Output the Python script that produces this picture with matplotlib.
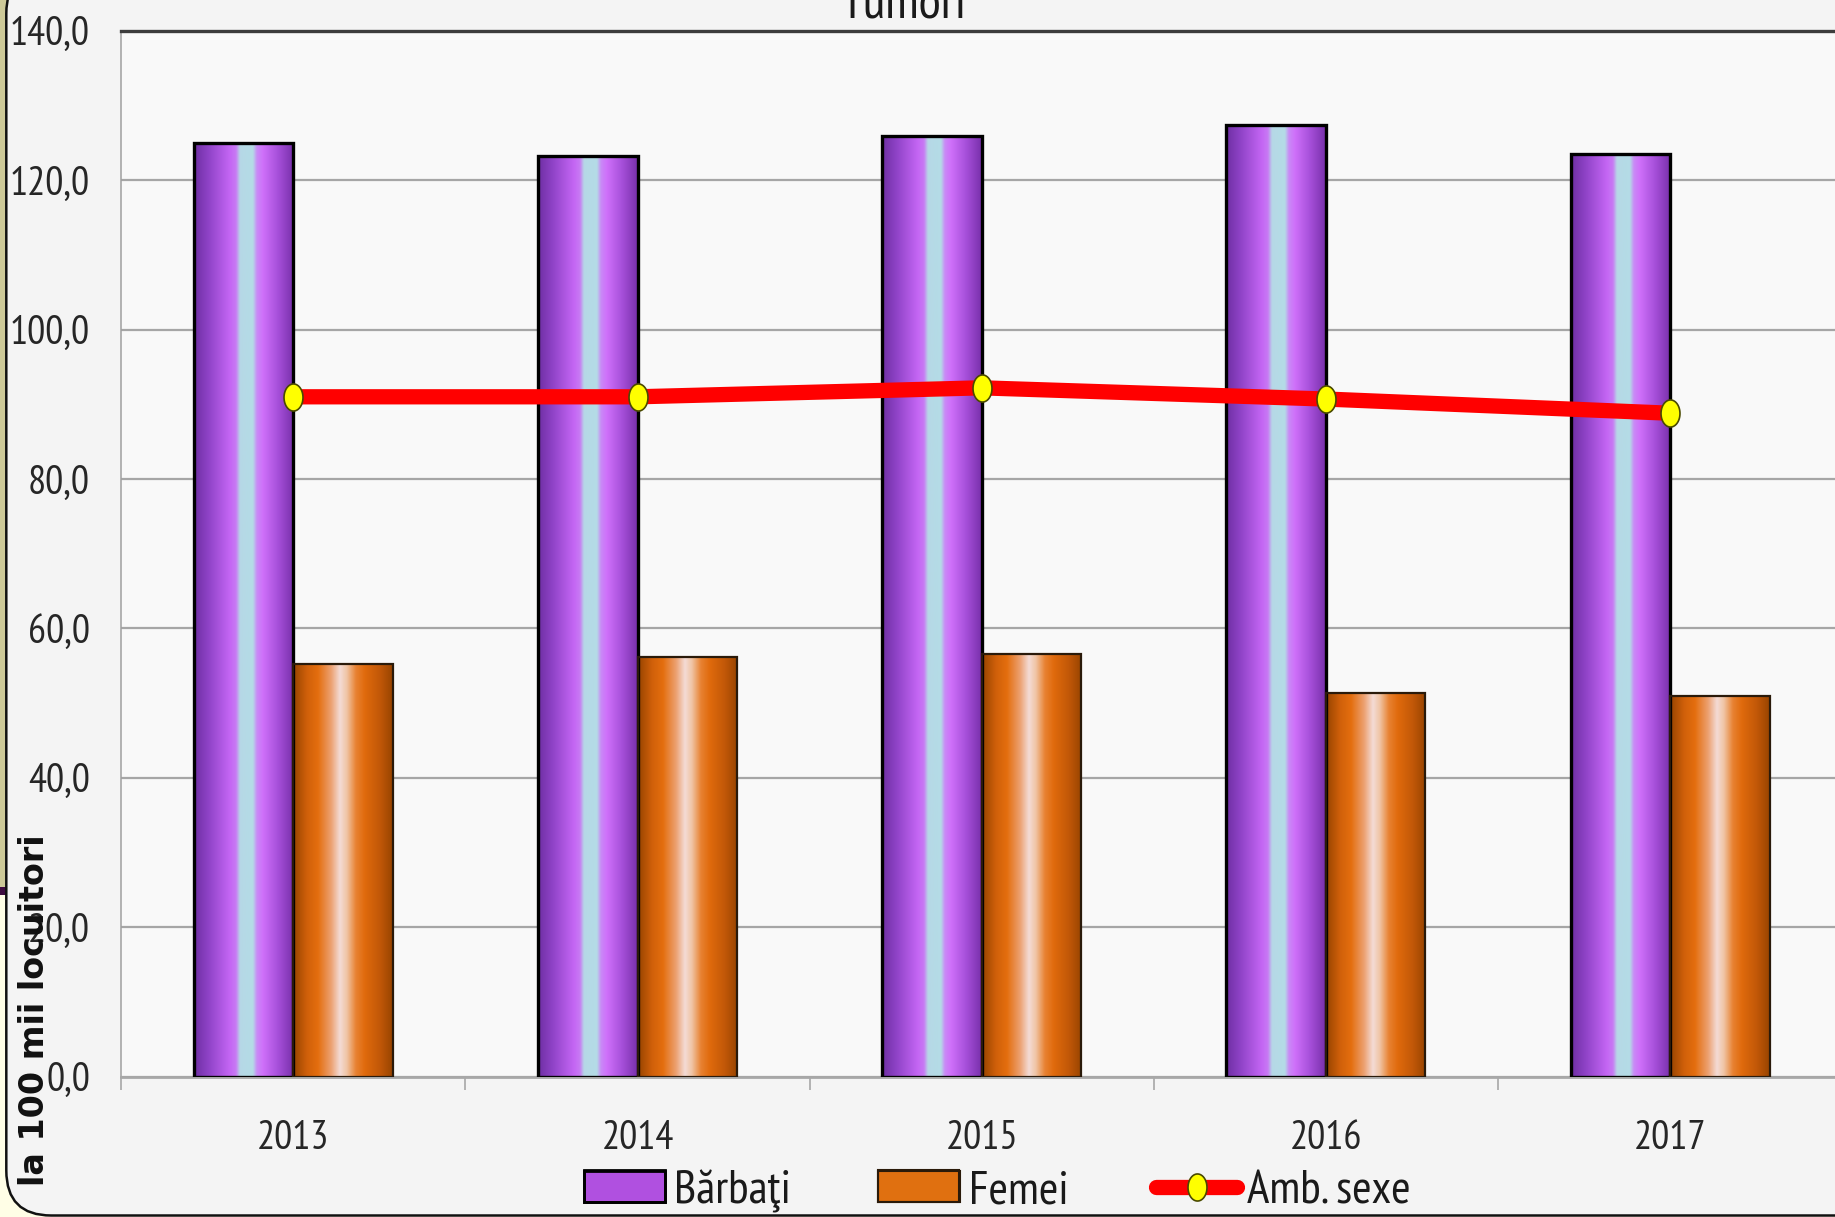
import matplotlib
matplotlib.use('Agg')
import matplotlib.pyplot as plt
import numpy as np
from matplotlib import font_manager
from matplotlib.font_manager import FontProperties
from matplotlib.colors import LinearSegmentedColormap
from matplotlib.path import Path
from matplotlib.patches import Rectangle, FancyBboxPatch, Patch
from matplotlib.transforms import IdentityTransform
from matplotlib.lines import Line2D

# ---------------- data ----------------
years = ['2013', '2014', '2015', '2016', '2017']
barbati = [125.0, 123.2, 125.9, 127.4, 123.5]
femei = [55.2, 56.2, 56.6, 51.4, 51.0]
amb_sexe = [91.0, 91.0, 92.2, 90.7, 88.8]
series_names = ['Bărbaţi', 'Femei', 'Amb. sexe']
y_ticks = [0, 20, 40, 60, 80, 100, 120, 140]
title_text = 'Tumori'
ylabel_text = 'la 100 mii locuitori'


def pick(fams):
    for f in fams:
        try:
            font_manager.findfont(FontProperties(family=f), fallback_to_default=False)
            return f
        except Exception:
            pass
    return 'DejaVu Sans'


narrow = pick(['PT Sans Narrow', 'Fira Sans Extra Condensed', 'Liberation Sans'])
NF = [narrow, 'DejaVu Sans']

W, H = 1835, 1217
fig = plt.figure(figsize=(W / 100, H / 100), dpi=100)
fig.patch.set_facecolor('#fffee6')

# slide background pieces on the left and the rounded chart frame
fig.patches.append(Rectangle((0, H - 887), 8, 887, transform=IdentityTransform(),
                             facecolor='#cdc998', edgecolor='none', zorder=-3))
fig.patches.append(Rectangle((0, H - 895), 6, 8, transform=IdentityTransform(),
                             facecolor='#3e0c40', edgecolor='none', zorder=-3))
fig.patches.append(FancyBboxPatch((6.3, 1.5), 2000, H + 30, transform=IdentityTransform(),
                                  boxstyle='round,pad=0,rounding_size=45',
                                  facecolor='#f4f4f4', edgecolor='#111111', lw=1.8, zorder=-2))

ax_left = 121.2 / W
ax_right = 1842.3 / W
ax_bottom = (H - 1076.7) / H
ax_top = (H - 30.7) / H
ax = fig.add_axes([ax_left, ax_bottom, ax_right - ax_left, ax_top - ax_bottom])
ax.set_facecolor('#f9f9f9')

x = np.arange(len(years))
bw = 0.289

cmap_b = LinearSegmentedColormap.from_list('b', [
    (0.0, '#6e2fa3'), (0.14, '#8e42c6'), (0.36, '#c466f4'), (0.42, '#c87af4'),
    (0.46, '#b6d8e6'), (0.59, '#b4dce6'), (0.63, '#c98af6'), (0.69, '#cf70fa'),
    (0.85, '#a44ed8'), (1.0, '#7830aa')])
cmap_f = LinearSegmentedColormap.from_list('f', [
    (0.0, '#964400'), (0.14, '#d0600a'), (0.25, '#e46e0e'), (0.38, '#eca070'),
    (0.47, '#f4dcd6'), (0.54, '#f0c4a4'), (0.63, '#e88232'), (0.72, '#e06a0c'),
    (0.87, '#c25808'), (1.0, '#984400')])

bars_b = ax.bar(x - bw / 2, barbati, bw, facecolor='none', edgecolor='black',
                linewidth=2.4, zorder=3)
bars_f = ax.bar(x + bw / 2, femei, bw, facecolor='none', edgecolor='#2a1a0a',
                linewidth=1.6, zorder=3)

grad = np.linspace(0, 1, 256)[None, :]
for bars, cm in ((bars_b, cmap_b), (bars_f, cmap_f)):
    for p in bars:
        x0, y0 = p.get_xy()
        ax.imshow(grad, cmap=cm, extent=[x0, x0 + p.get_width(), y0, y0 + p.get_height()],
                  aspect='auto', interpolation='bicubic', zorder=2)

theta = np.linspace(0, 2 * np.pi, 61)
ell = Path(np.column_stack([0.7 * np.cos(theta), np.sin(theta)]), closed=True)

ax.plot(x, amb_sexe, color='#ff0000', lw=11, marker=ell, ms=19.5,
        mfc='#ffff00', mec='#4a4a00', mew=1.2, zorder=4, solid_capstyle='butt')

ax.set_xlim(-0.5, len(years) - 0.5)
ax.set_ylim(0, 140)

# y axis
ax.set_yticks(y_ticks)
ax.set_yticklabels([f'{v:.1f}'.replace('.', ',') for v in y_ticks],
                   family=NF, fontsize=29, color='#262626')
ax.tick_params(axis='y', length=0, pad=22.4)
ax.yaxis.grid(True, color='#a6a6a6', lw=1.6)
ax.set_axisbelow(True)

# x axis
ax.set_xticks(np.arange(-0.5, len(years), 1.0))
ax.set_xticklabels([])
ax.tick_params(axis='x', which='major', length=9.4, width=1.1, color='#a0a0a0', direction='out')
ax.set_xticks(x, minor=True)
ax.set_xticklabels(years, minor=True, family=NF, fontsize=29, color='#262626')
ax.tick_params(axis='x', which='minor', length=0, pad=31.5)

ax.spines['right'].set_visible(False)
ax.spines['top'].set_color('#3d3d3d')
ax.spines['top'].set_linewidth(2.4)
ax.spines['left'].set_color('#a0a0a0')
ax.spines['left'].set_linewidth(1.1)
ax.spines['bottom'].set_color('#a8a8a8')
ax.spines['bottom'].set_linewidth(2.0)

# titles
fig.text(903 / W, 1 - 18 / H, title_text, ha='center', va='baseline',
         family=NF, fontsize=37, color='#1a1a1a')
fig.text(35 / W, 1 - 1010 / H, ylabel_text, rotation=90, ha='center', va='center',
         family='DejaVu Sans', fontweight='bold', fontsize=24, color='#111111')

# legend
handles = [Patch(facecolor='#b050e0', edgecolor='black', lw=2.0),
           Patch(facecolor='#e07010', edgecolor='#2a1a0a', lw=1.5),
           Line2D([], [], color='#ff0000', lw=11, marker=ell, ms=19.5,
                  mfc='#ffff00', mec='#4a4a00', mew=1.2, solid_capstyle='round')]
leg = fig.legend(handles, series_names, loc='center', bbox_to_anchor=(997 / W, 26 / H),
                 ncol=3, frameon=False, prop=FontProperties(family=NF, size=34),
                 handlelength=1.72, handleheight=0.66, handletextpad=0.2,
                 columnspacing=1.85, borderaxespad=0, borderpad=0)
for t in leg.get_texts():
    t.set_color('#1a1a1a')

fig.canvas.draw()
renderer = fig.canvas.get_renderer()
for h, cm, ec, lw in ((leg.legend_handles[0], cmap_b, 'black', 2.0),
                      (leg.legend_handles[1], cmap_f, '#2a1a0a', 1.5)):
    bb = h.get_window_extent(renderer)
    wpx = int(round(bb.width))
    hpx = int(round(bb.height))
    arr = cm(np.linspace(0, 1, wpx))[None, :, :].repeat(hpx, axis=0)
    fig.figimage(arr, xo=int(round(bb.x0)), yo=int(round(bb.y0)), origin='lower', zorder=5)
    fig.patches.append(Rectangle((round(bb.x0), round(bb.y0)), wpx, hpx,
                                 transform=IdentityTransform(), fill=False,
                                 edgecolor=ec, lw=lw, zorder=6))

fig.savefig('out.png', dpi=100, facecolor=fig.get_facecolor())
